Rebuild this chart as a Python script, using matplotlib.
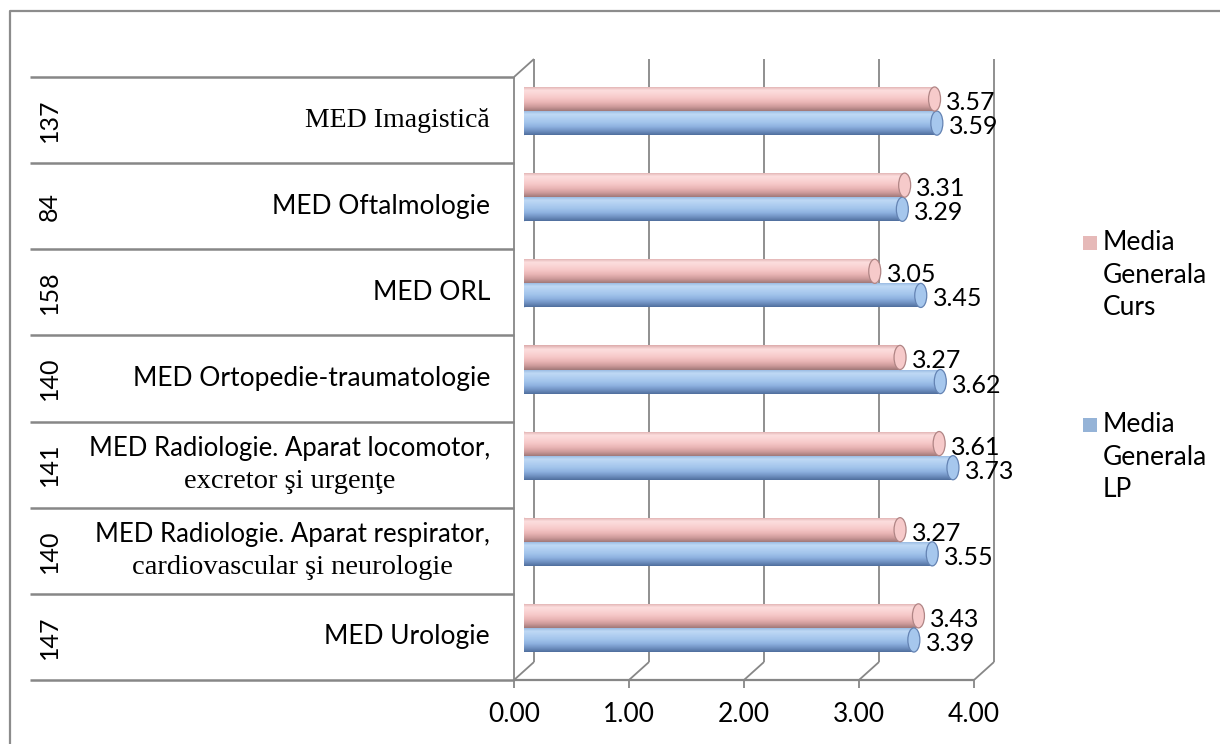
import numpy as np
import matplotlib
matplotlib.use("Agg")
import matplotlib.pyplot as plt
from matplotlib.transforms import ScaledTranslation
from matplotlib.patches import Ellipse, Rectangle
from matplotlib.colors import LinearSegmentedColormap

# ---- data (top to bottom, as in the chart) ----
categories = [
    "MED Imagistică",
    "MED Oftalmologie",
    "MED ORL",
    "MED Ortopedie-traumatologie",
    "MED Radiologie. Aparat locomotor,\nexcretor şi urgenţe",
    "MED Radiologie. Aparat respirator,\ncardiovascular şi neurologie",
    "MED Urologie",
]
counts = ["137", "84", "158", "140", "141", "140", "147"]
media_curs = [3.57, 3.31, 3.05, 3.27, 3.61, 3.27, 3.43]
media_lp = [3.59, 3.29, 3.45, 3.62, 3.73, 3.55, 3.39]
series_names = ["Media\nGenerala\nCurs", "Media\nGenerala\nLP"]
x_ticks = [0, 1, 2, 3, 4]

# ---- style ----
W, H, DPI = 1220, 744, 100
SANS = ["Lato", "DejaVu Sans"]
SERIF = ["Liberation Serif", "DejaVu Serif"]
FS = 19
GRID = "#878787"
SERIF_LINES = {(0, 0), (4, 1), (5, 1)}

pink_cmap = LinearSegmentedColormap.from_list(
    "pink3d", ["#dcaaaa", "#fcdede", "#fad3d3", "#f5c6c6", "#e8b3b3", "#cc9a9a", "#a07878"])
blue_cmap = LinearSegmentedColormap.from_list(
    "blue3d", ["#90b3de", "#bfd9f5", "#b0cef1", "#a2c4eb", "#8eb1e0", "#7192c2", "#4f6e9d"])
legend_colors = ["#e6b9b8", "#95b3d7"]

fig = plt.figure(figsize=(W / DPI, H / DPI), dpi=DPI)
fig.patch.set_facecolor("white")

# full-figure axes in pixel units for the frame and labels
deco = fig.add_axes([0, 0, 1, 1], zorder=1)
deco.set_xlim(0, W)
deco.set_ylim(0, H)
deco.axis("off")

# bar axes: mid depth of the 3d box
ax = fig.add_axes([524 / W, 1 - 671 / H, 460 / W, 603 / H], zorder=2)
ax.set_xlim(0, 4)
ax.set_ylim(len(categories) - 0.5, -0.5)
ax.axis("off")

back = ax.transData + ScaledTranslation(10 / DPI, 9 / DPI, fig.dpi_scale_trans)
front = ax.transData + ScaledTranslation(-10 / DPI, -9 / DPI, fig.dpi_scale_trans)
y_top, y_bot = -0.5, len(categories) - 0.5


def px(tr, x, y):
    return tr.transform((x, y))


def line(p, q, lw=1.3):
    deco.plot([p[0], q[0]], [p[1], q[1]], color=GRID, lw=lw, solid_capstyle="butt")


# outer chart border (right/bottom edges fall outside the picture)
deco.plot([10, 10, W + 5], [-5, H - 11, H - 11], color="#8c8c8c", lw=1.6)

# back wall gridlines and floor edges
for t in x_ticks:
    line(px(back, t, y_top), px(back, t, y_bot))
    line(px(back, t, y_bot), px(front, t, y_bot))
    fx, fy = px(front, t, y_bot)
    line((fx, fy), (fx, fy - 8))
line(px(front, 0, y_bot), px(front, 4, y_bot), lw=1.6)
line(px(front, 0, y_top), px(front, 0, y_bot))
line(px(front, 0, y_top), px(back, 0, y_top))

# category table on the left
for e in np.arange(y_top, y_bot + 0.01, 1.0):
    fx, fy = px(front, 0, e)
    line((30, fy), (fx, fy), lw=1.8)

renderer = fig.canvas.get_renderer()
for i, (name, n) in enumerate(zip(categories, counts)):
    _, yc = px(front, 0, i)
    deco.text(49, yc, n, rotation=90, ha="center", va="center",
              fontsize=FS - 1, family=SANS, color="black")
    lines = name.split("\n")
    if len(lines) == 1:
        fam = SERIF if (i, 0) in SERIF_LINES else SANS
        deco.text(490, yc, lines[0], ha="right", va="center",
                  fontsize=FS + 1 if fam is SERIF else FS, family=fam)
    else:
        t1 = deco.text(490, yc + 16, lines[0], ha="right", va="center",
                       fontsize=FS - 0.5, family=SANS)
        bb = t1.get_window_extent(renderer)
        fam = SERIF if (i, 1) in SERIF_LINES else SANS
        deco.text((bb.x0 + bb.x1) / 2, yc - 17, lines[1], ha="center", va="center",
                  fontsize=FS + 1.5 if fam is SERIF else FS, family=fam)

# x tick labels on the front floor edge
for t in x_ticks:
    fx, fy = px(front, t, y_bot)
    deco.text(fx, fy - 34, f"{t:.2f}", ha="center", va="center",
              fontsize=FS, family=SANS)

# cylinder bars
y = np.arange(len(categories))
h = 0.28
grad = np.linspace(0, 1, 128).reshape(-1, 1)
cap_w = 12 / 115


def cylinders(vals, offs, cmap, face, edge):
    bars = ax.barh(y + offs, vals, height=h, color=face, edgecolor="none", zorder=3)
    for b, v in zip(bars, vals):
        x0, y0, bw, bh = b.get_x(), b.get_y(), b.get_width(), b.get_height()
        ax.add_patch(Ellipse((x0, y0 + bh / 2), cap_w, bh, facecolor=cmap(0.55),
                             edgecolor="none", zorder=2.5))
        im = ax.imshow(grad, extent=[x0, x0 + bw, y0 + bh, y0], aspect="auto",
                       cmap=cmap, zorder=3.2, interpolation="bilinear")
        im.set_clip_path(b)
        ax.add_patch(Ellipse((v, y0 + bh / 2), cap_w, bh, facecolor=cmap(0.45),
                             edgecolor=edge, lw=0.9, zorder=3.4))
        ax.annotate(f"{v:.2f}", (v, y0 + bh / 2), xytext=(8.5, -2.5),
                    textcoords="offset points", ha="left", va="center",
                    fontsize=FS - 1, family=SANS, color="black", zorder=5)


cylinders(media_lp, 0.14, blue_cmap, "#a2c4eb", "#6483b3")
cylinders(media_curs, -0.14, pink_cmap, "#f5c6c6", "#b08585")
ax.set_xlim(0, 4)
ax.set_ylim(len(categories) - 0.5, -0.5)

# legend
for k, (lab, col) in enumerate(zip(series_names, legend_colors)):
    top = 236 + 182 * k
    deco.add_patch(Rectangle((1083, H - top - 14), 14, 14, facecolor=col, edgecolor="none"))
    deco.text(1103, H - top + 6, lab, ha="left", va="top", fontsize=FS,
              family=SANS, linespacing=1.38)

fig.savefig("out.png", dpi=DPI, facecolor="white")
